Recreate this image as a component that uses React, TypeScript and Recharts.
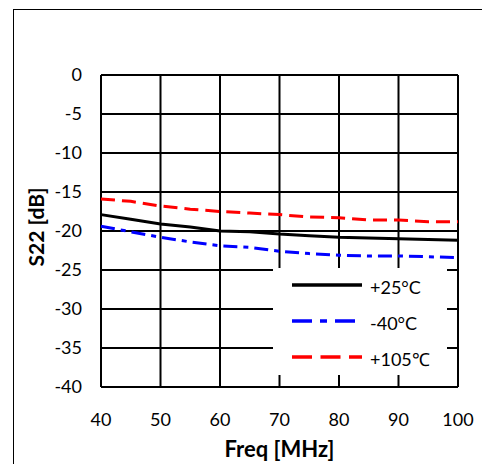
import {
  CartesianGrid,
  Label,
  Legend,
  Line,
  LineChart,
  XAxis,
  YAxis,
} from "recharts";

const freqMHz = [40, 45, 50, 55, 60, 65, 70, 75, 80, 85, 90, 95, 100];
const s22At25C = [-17.9, -18.5, -19.1, -19.5, -20.0, -20.1, -20.4, -20.6, -20.8, -20.9, -21.0, -21.1, -21.2];
const s22AtMinus40C = [-19.4, -20.1, -20.8, -21.4, -21.9, -22.1, -22.6, -22.9, -23.1, -23.2, -23.2, -23.3, -23.4];
const s22At105C = [-15.9, -16.2, -16.8, -17.2, -17.5, -17.7, -17.9, -18.2, -18.3, -18.6, -18.6, -18.8, -18.8];

const xTicks = [40, 50, 60, 70, 80, 90, 100];
const yTicks = [0, -5, -10, -15, -20, -25, -30, -35, -40];

const data = freqMHz.map((freq, i) => ({
  freq,
  t25: s22At25C[i],
  tm40: s22AtMinus40C[i],
  t105: s22At105C[i],
}));

const FONT = "Lato, 'Open Sans', sans-serif";
const seriesOrder = ["t25", "tm40", "t105"];

// dash patterns used in the legend swatches (the plot lines use shorter ones)
const legendDash: Record<string, string | undefined> = {
  t25: undefined,
  tm40: "20 8 7 8",
  t105: "20 8.5",
};

const LegendBox = ({ payload }: { payload?: any[] }) => {
  if (!payload) return null;
  return (
    <svg width={174} height={107} style={{ display: "block" }}>
      {payload.map((entry, index) => {
        const y = 17 + index * 36;
        return (
          <g key={entry.dataKey}>
            <line
              x1={19}
              x2={89}
              y1={y}
              y2={y}
              stroke={entry.color}
              strokeWidth={3.5}
              strokeDasharray={legendDash[entry.dataKey]}
            />
            <text x={97} y={y + 9} fontFamily={FONT} fontSize={18} fill="#000">
              {entry.value}
            </text>
          </g>
        );
      })}
    </svg>
  );
};

const YTitle = ({ viewBox }: { viewBox?: any }) => {
  if (!viewBox) return null;
  const cx = viewBox.x - 6;
  const cy = viewBox.y + viewBox.height / 2 - 4;
  return (
    <text
      x={cx}
      y={cy}
      transform={`rotate(-90, ${cx}, ${cy})`}
      textAnchor="middle"
      dominantBaseline="central"
      fontFamily={FONT}
      fontWeight="bold"
      fontSize={21}
      fill="#000"
    >
      S22 [dB]
    </text>
  );
};

export default function App() {
  return (
    <div
      style={{
        position: "absolute",
        left: 0,
        top: 0,
        width: 482,
        height: 464,
        overflow: "hidden",
        background: "#fff",
      }}
    >
      <div
        style={{
          position: "absolute",
          left: 13,
          top: 9,
          width: 520,
          height: 520,
          border: "1px solid #000",
        }}
      />
      <LineChart
        width={482}
        height={464}
        data={data}
        margin={{ top: 75, right: 24, bottom: 0, left: 41 }}
        style={{ position: "absolute", left: 0, top: 0 }}
      >
        <CartesianGrid stroke="#000" strokeWidth={2} />
        <XAxis
          dataKey="freq"
          type="number"
          domain={[40, 100]}
          ticks={xTicks}
          height={77}
          axisLine={false}
          tickLine={false}
          tickSize={0}
          tickMargin={26}
          tick={{ fill: "#000", fontSize: 18, fontFamily: FONT }}
          interval={0}
        >
          <Label
            value="Freq [MHz]"
            position="insideBottom"
            offset={7}
            fill="#000"
            fontSize={22}
            fontWeight="bold"
            fontFamily={FONT}
          />
        </XAxis>
        <YAxis
          type="number"
          domain={[-40, 0]}
          ticks={yTicks}
          width={60}
          axisLine={false}
          tickLine={false}
          tickSize={0}
          tickMargin={19}
          tick={{ fill: "#000", fontSize: 18, fontFamily: FONT }}
          interval={0}
        >
          <Label content={<YTitle />} />
        </YAxis>
        <Legend
          layout="vertical"
          align="center"
          verticalAlign="middle"
          itemSorter={(item: any) => seriesOrder.indexOf(item.dataKey)}
          content={<LegendBox />}
          wrapperStyle={{
            left: 273,
            top: 268,
            width: 174,
            height: 107,
            background: "#fff",
          }}
        />
        <Line
          dataKey="t25"
          name="+25°C"
          stroke="#000"
          strokeWidth={3}
          dot={false}
          isAnimationActive={false}
        />
        <Line
          dataKey="tm40"
          name="-40°C"
          stroke="#0000ff"
          strokeWidth={3}
          strokeDasharray="14 6 5 6"
          dot={false}
          isAnimationActive={false}
        />
        <Line
          dataKey="t105"
          name="+105℃"
          stroke="#ff0000"
          strokeWidth={3}
          strokeDasharray="14 7"
          dot={false}
          isAnimationActive={false}
        />
      </LineChart>
    </div>
  );
}
